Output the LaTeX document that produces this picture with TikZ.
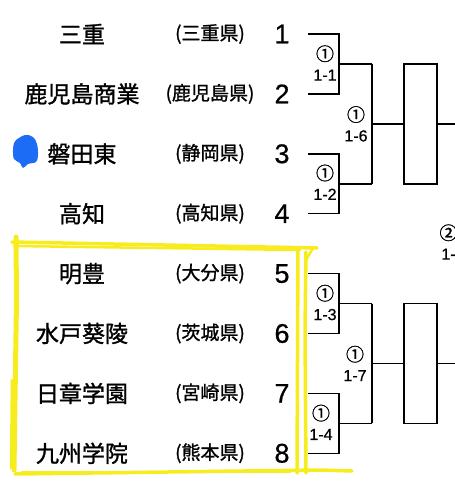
\documentclass[tikz,border=0pt]{standalone}
\usepackage{fontspec}
\setmainfont[FakeBold=0.6]{Liberation Sans}
\newfontfamily\jpfont[FakeBold=1.2]{Noto Sans CJK JP}
\newcommand\rnd[1]{{\jpfont\fontsize{18}{20}\selectfont #1}}
\usetikzlibrary{positioning,calc}
\definecolor{marker}{RGB}{246,236,30}
\definecolor{pen}{RGB}{28,108,245}
\tikzset{
  team/.style={font=\jpfont\fontsize{23}{23}\selectfont, inner sep=0pt},
  pref/.style={font=\jpfont\fontsize{19}{19}\selectfont, inner sep=0pt},
  seed/.style={font=\fontsize{27}{27}\selectfont, inner sep=0pt},
  game/.style={font=\fontsize{16}{20}\selectfont, align=center, inner sep=0pt},
  slot/.style={draw, minimum width=33pt, minimum height=119.8pt, inner sep=0pt},
  hilite/.style={draw=marker, line width=3.5pt, line cap=round, line join=round},
}

\begin{document}
\begin{tikzpicture}[x=1pt, y=-1pt, line width=1.5pt]
\useasboundingbox (0,0) rectangle (455,483);
% marker box round teams 5-8
\draw[hilite, line width=5pt] (16,237) -- (16.5,300) -- (15,400) -- (14,470);
\draw[hilite, line width=2.5pt] (12,380) -- (11,468);
\draw[hilite] (12,242) -- (317,248); \draw[hilite, line width=2.5pt] (14,246) -- (300,250);
\draw[hilite] (298,249) -- (297,473); \draw[hilite] (306,252) -- (305,330) -- (306,473);
\draw[hilite, line width=2.5pt] (313,248) -- (305,262);
\draw[hilite] (15,474) -- (320,470) -- (352,471); \draw[hilite, line width=2.5pt] (22,472) -- (290,472);
% pen mark
\fill[pen] plot[smooth cycle, tension=0.6] coordinates {(16,140) (25,135) (33,137) (37,144) (38,155) (36,162) (28,164) (23,168) (20,163) (14,159) (13,150) (14,143)};
\foreach \i/\team/\pref in {1/三重/三重県, 2/鹿児島商業/鹿児島県, 3/磐田東/静岡県, 4/高知/高知県, 5/明豊/大分県, 6/水戸葵陵/茨城県, 7/日章学園/宮崎県, 8/九州学院/熊本県} {
  \pgfmathsetmacro\y{34+59.9*(\i-1)}
  \node[team] (t\i) at (82,\y) {\team};
  \node[pref] (p\i) at (210,\y) {(\pref)};
  \node[seed] (n\i) at (282,\y) {\i};
  \coordinate (s\i) at (308,\y);
}
% first round
\foreach \a/\b/\m in {1/2/1, 3/4/2, 5/6/3, 7/8/4} {
  \coordinate (r\m) at ($(s\a)!.5!(s\b)+(31,0)$);
  \coordinate (q\m) at ($(r\m)+(33,0)$);
  \draw (s\a) -| (r\m) |- (s\b);
  \draw (r\m) -- (q\m);
}
% second round
\foreach \a/\b/\m in {1/2/1, 3/4/2} {
  \coordinate (h\m) at ($(q\a)!.5!(q\b)$);
  \draw (q\a) -- (q\b);
  \node[slot, right=31pt of h\m] (b\m) {};
  \coordinate (e\m) at ($(b\m.east)+(20,0)$);
  \draw (h\m) -- (b\m);
  \draw (b\m) -- (e\m);
}
\foreach \p/\dx/\dy/\txt in {r1/-14/-1/1-1, r2/-14/-1.5/1-2, r3/-14/-1/1-3, r4/-18/-1/1-4, h1/-16/0/1-6, h2/-17/0/1-7} {
  \node[game] at ($(\p)+(\dx,\dy)$) {\rnd{①}\\\txt};
}
\node[game] (g5) at (448.5,242) {\rnd{②}\\1-};
\end{tikzpicture}
\end{document}
